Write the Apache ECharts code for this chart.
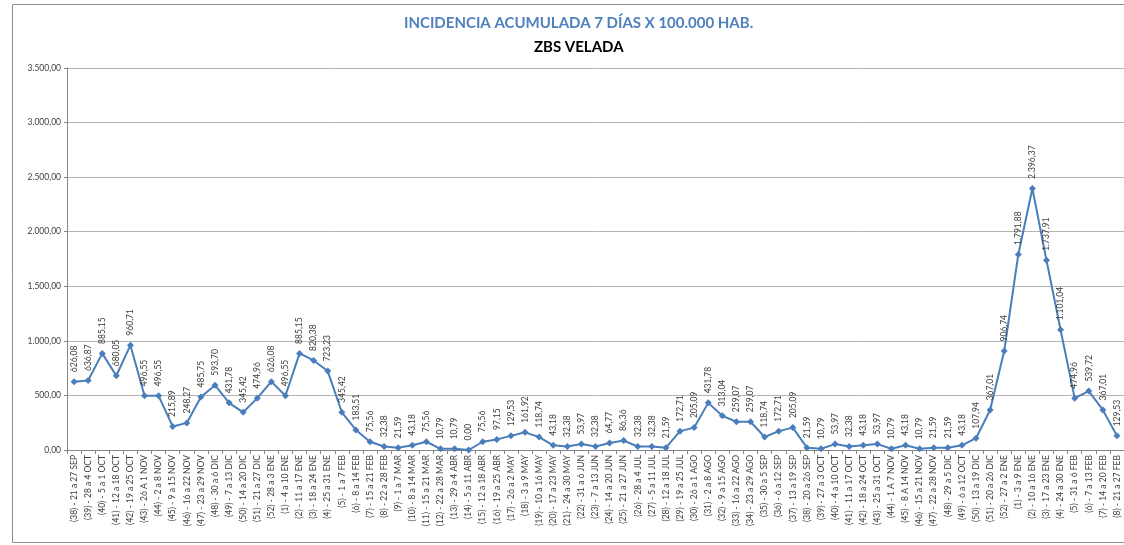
<!DOCTYPE html>
<html>
<head>
<meta charset="utf-8">
<title>Incidencia acumulada ZBS Velada</title>
<script src="https://cdn.jsdelivr.net/npm/echarts@6/dist/echarts.min.js"></script>
<style>
  html, body { margin: 0; padding: 0; background: #fff; }
  #chart { width: 1124px; height: 545px; }
</style>
</head>
<body>
<div id="chart"></div>
<script>
// semanas (eje X)
var semanas = [
  "(38) - 21 a 27 SEP", "(39) - 28 a 4 OCT", "(40) - 5 a 1 OCT", "(41) - 12 a 18 OCT",
  "(42) - 19 a 25 OCT", "(43) - 26 A 1 NOV", "(44) - 2 a 8 NOV", "(45) - 9 a 15 NOV",
  "(46) - 16 a 22 NOV", "(47) - 23 a 29 NOV", "(48) - 30 a 6 DIC", "(49) - 7 a 13 DIC",
  "(50) - 14 a 20 DIC", "(51) - 21 a 27 DIC", "(52) - 28 a 3 ENE",
  "(1) - 4 a 10 ENE", "(2) - 11 a 17 ENE", "(3) - 18 a 24 ENE", "(4) - 25 a 31 ENE",
  "(5) - 1 a 7 FEB", "(6) - 8 a 14 FEB", "(7) - 15 a 21 FEB", "(8) - 22 a 28 FEB",
  "(9) - 1 a 7 MAR", "(10) - 8 a 14 MAR", "(11) - 15 a 21 MAR", "(12) - 22 a 28 MAR",
  "(13) - 29 a 4 ABR", "(14) - 5 a 11 ABR", "(15) - 12 a 18 ABR", "(16) - 19 a 25 ABR",
  "(17) - 26 a 2 MAY", "(18) - 3 a 9 MAY", "(19) - 10 a 16 MAY", "(20) - 17 a 23 MAY",
  "(21) - 24 a 30 MAY", "(22) - 31 a 6 JUN", "(23) - 7 a 13 JUN", "(24) - 14 a 20 JUN",
  "(25) - 21 a 27 JUN", "(26) - 28 a 4 JUL", "(27) - 5 a 11 JUL", "(28) - 12 a 18 JUL",
  "(29) - 19 a 25 JUL", "(30) - 26 a 1 AGO", "(31) - 2 a 8 AGO", "(32) - 9 a 15 AGO",
  "(33) - 16 a 22 AGO", "(34) - 23 a 29 AGO", "(35) - 30 a 5 SEP", "(36) - 6 a 12 SEP",
  "(37) - 13 a 19 SEP", "(38) - 20 a 26 SEP", "(39) - 27 a 3 OCT", "(40) - 4 a 10 OCT",
  "(41) - 11 a 17 OCT", "(42) - 18 a 24 OCT", "(43) - 25 a 31 OCT", "(44) - 1 A 7 NOV",
  "(45) - 8 A 14 NOV", "(46) - 15 a 21 NOV", "(47) - 22 a 28 NOV", "(48) - 29 a 5 DIC",
  "(49) - 6 a 12 OCT", "(50) - 13 a 19 DIC", "(51) - 20 a 26 DIC", "(52) - 27 a 2 ENE",
  "(1) - 3 a 9 ENE", "(2) - 10 a 16 ENE", "(3) - 17 a 23 ENE", "(4) - 24 a 30 ENE",
  "(5) - 31 a 6 FEB", "(6) - 7 a 13 FEB", "(7) - 14 a 20 FEB", "(8) - 21 a 27 FEB"
];

// incidencia acumulada 7 dias x 100.000 hab.
var incidencia = [
  626.08, 636.87, 885.15, 680.05, 960.71, 496.55, 496.55, 215.89,
  248.27, 485.75, 593.70, 431.78, 345.42, 474.96, 626.08,
  496.55, 885.15, 820.38, 723.23, 345.42, 183.51, 75.56, 32.38,
  21.59, 43.18, 75.56, 10.79, 10.79, 0.00, 75.56, 97.15,
  129.53, 161.92, 118.74, 43.18, 32.38, 53.97, 32.38, 64.77,
  86.36, 32.38, 32.38, 21.59, 172.71, 205.09, 431.78, 313.04,
  259.07, 259.07, 118.74, 172.71, 205.09, 21.59, 10.79, 53.97,
  32.38, 43.18, 53.97, 10.79, 43.18, 10.79, 21.59, 21.59,
  43.18, 107.94, 367.01, 906.74, 1791.88, 2396.37, 1737.91, 1101.04,
  474.96, 539.72, 367.01, 129.53
];

var yMin = 0, yMax = 3500, yStep = 500;

// 2396.37 -> "2.396,37"
function fmtEs(v) {
  var parts = Number(v).toFixed(2).split(".");
  parts[0] = parts[0].replace(/\B(?=(\d{3})+(?!\d))/g, ".");
  return parts[0] + "," + parts[1];
}

var chart = echarts.init(document.getElementById("chart"));

var option = {
  animation: false,
  backgroundColor: "#fff",
  textStyle: { fontFamily: "Lato" },
  graphic: [
    {
      type: "rect",
      shape: { x: 12.5, y: 4.5, width: 1130, height: 538 },
      style: { fill: "none", stroke: "#8c8c8c", lineWidth: 1 },
      silent: true
    }
  ],
  // el grafico original es mas ancho que la captura, por eso el titulo va algo a la derecha
  title: [
    {
      text: "INCIDENCIA ACUMULADA 7 DÍAS X 100.000 HAB.",
      left: 399,
      top: 11,
      textStyle: { color: "#4F81BD", fontSize: 15, fontWeight: "bold", fontFamily: "Lato" }
    },
    {
      text: "ZBS VELADA",
      left: 529,
      top: 35,
      textStyle: { color: "#000", fontSize: 15, fontWeight: "bold", fontFamily: "Lato" }
    }
  ],
  grid: { left: 67, top: 68, width: 1060, bottom: 95, containLabel: false },
  xAxis: {
    type: "category",
    data: semanas,
    boundaryGap: true,
    axisLine: { lineStyle: { color: "#868686", width: 1 } },
    axisTick: { show: true, length: 4, alignWithLabel: false, lineStyle: { color: "#868686" } },
    axisLabel: {
      interval: 0,
      rotate: 90,
      fontSize: 8.5,
      color: "#404040",
      margin: 5,
      fontFamily: "Lato"
    },
    splitLine: { show: false }
  },
  yAxis: {
    type: "value",
    min: yMin,
    max: yMax,
    interval: yStep,
    axisLine: { show: true, lineStyle: { color: "#868686" } },
    axisTick: { show: true, length: 3, lineStyle: { color: "#868686" } },
    axisLabel: {
      fontSize: 8.5,
      color: "#404040",
      margin: 6,
      fontFamily: "Lato",
      formatter: function (v) { return fmtEs(v); }
    },
    splitLine: { show: true, lineStyle: { color: "#b4b4b4", width: 1 } }
  },
  series: [
    {
      type: "line",
      data: incidencia,
      symbol: "diamond",
      symbolSize: 7,
      showAllSymbol: true,
      lineStyle: { color: "#4A7EBB", width: 2 },
      itemStyle: { color: "#4A7EBB" },
      label: {
        show: true,
        position: "top",
        rotate: 90,
        align: "left",
        verticalAlign: "middle",
        distance: 6,
        fontSize: 8.5,
        color: "#404040",
        fontFamily: "Lato",
        formatter: function (p) { return fmtEs(p.value); }
      },
      labelLayout: { hideOverlap: false }
    }
  ]
};

chart.setOption(option);

window.addEventListener("resize", function () {
  chart.resize();
});
</script>
</body>
</html>
